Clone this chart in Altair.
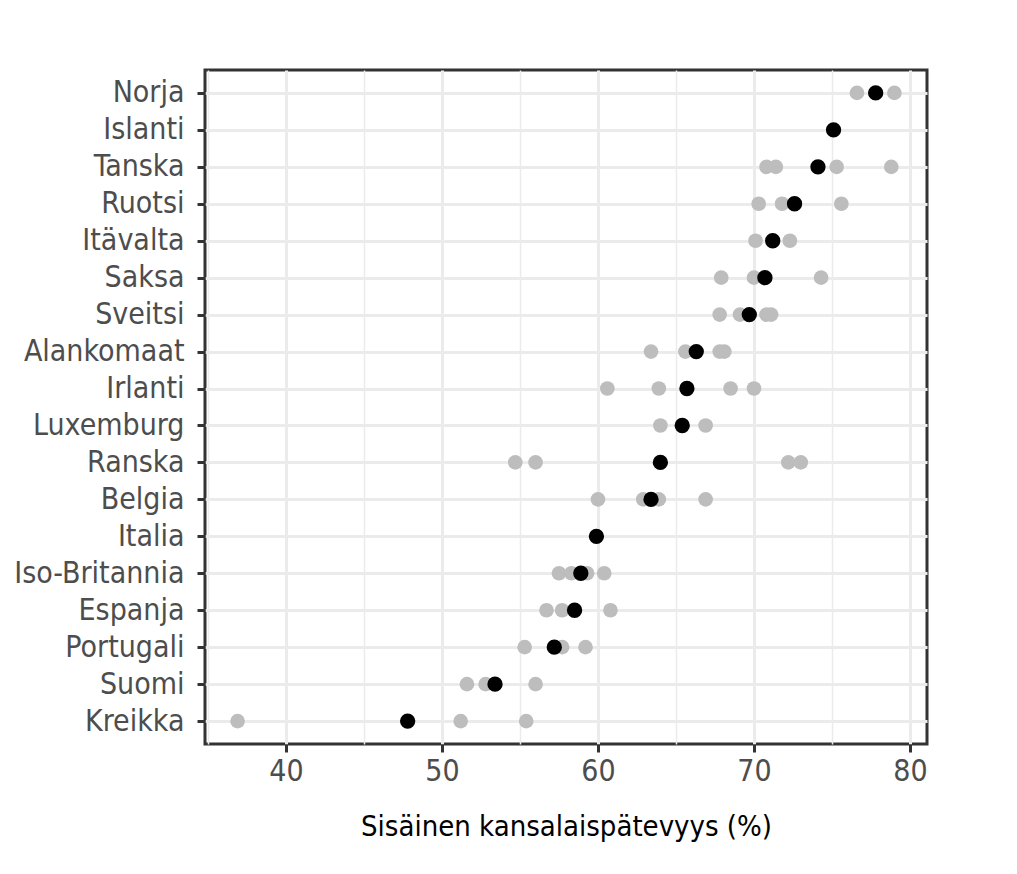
import altair as alt
import pandas as pd

countries = ["Norja", "Islanti", "Tanska", "Ruotsi", "Itävalta", "Saksa", "Sveitsi",
             "Alankomaat", "Irlanti", "Luxemburg", "Ranska", "Belgia", "Italia",
             "Iso-Britannia", "Espanja", "Portugali", "Suomi", "Kreikka"]
national = [77.8, 75.1, 74.1, 72.6, 71.2, 70.7, 69.7, 66.3, 65.7, 65.4, 64.0, 63.4,
            59.9, 58.9, 58.5, 57.2, 53.4, 47.8]
groups = [
    [76.6, 79.0],
    [],
    [70.8, 71.4, 75.3, 78.8],
    [70.3, 71.8, 75.6],
    [70.1, 72.3],
    [67.9, 70.0, 74.3],
    [67.8, 69.1, 70.8, 71.1],
    [63.4, 65.6, 67.8, 68.1],
    [60.6, 63.9, 68.5, 70.0],
    [64.0, 66.9],
    [54.7, 56.0, 72.2, 73.0],
    [60.0, 62.9, 63.9, 66.9],
    [],
    [57.5, 58.3, 59.3, 60.4],
    [56.7, 57.7, 60.8],
    [55.3, 57.7, 59.2],
    [51.6, 52.8, 56.0],
    [36.9, 51.2, 55.4],
]
x_ticks = [35, 40, 45, 50, 55, 60, 65, 70, 75, 80]

rows = []
for c, vals in zip(countries, groups):
    for v in vals:
        rows.append({"maa": c, "arvo": v, "tyyppi": "ryhmä"})
gray_df = pd.DataFrame(rows)
black_df = pd.DataFrame({"maa": countries, "arvo": national})

FONT = "Liberation Sans Narrow, DejaVu Sans Condensed, sans-serif"

x_enc = alt.X(
    "arvo:Q",
    scale=alt.Scale(domain=[34.81, 81.09], nice=False, zero=False),
    axis=alt.Axis(
        title="Sisäinen kansalaispätevyys (%)",
        values=x_ticks,
        labelExpr="datum.value % 10 === 0 ? datum.label : ''",
        gridWidth={"condition": {"test": "datum.value % 10 === 0", "value": 3}, "value": 1.5},
        tickOpacity={"condition": {"test": "datum.value % 10 === 0", "value": 1}, "value": 0},
    ),
)
y_enc = alt.Y(
    "maa:N",
    sort=countries,
    scale=alt.Scale(type="point", padding=0.62, domain=countries),
    axis=alt.Axis(title=None),
)

gray = alt.Chart(gray_df).mark_circle(size=215, opacity=1, color="#bdbdbd").encode(x=x_enc, y=y_enc)
black = alt.Chart(black_df).mark_circle(size=235, opacity=1, color="#000000").encode(x=x_enc, y=y_enc)

chart = alt.layer(gray, black).properties(
    width=722, height=674,
    autosize=alt.AutoSizeParams(type="none"),
    padding={"left": 197, "top": 62, "right": 30, "bottom": 110},
).configure_view(
    stroke="#333333", strokeWidth=3,
).configure_axis(
    domain=False,
    grid=True,
    gridColor="#ebebeb",
    gridWidth=3,
    tickColor="#333333",
    tickWidth=3,
    tickSize=8,
    labelFont=FONT,
    labelFontSize=30,
    labelColor="#4d4d4d",
    titleFont=FONT,
    titleFontSize=29,
    titleFontWeight="normal",
    titleColor="#000000",
).configure_axisY(
    labelPadding=13,
).configure_axisX(
    labelPadding=4,
    titlePadding=26,
)

chart.save("out.html", embed_options={"renderer": "svg", "actions": False})
